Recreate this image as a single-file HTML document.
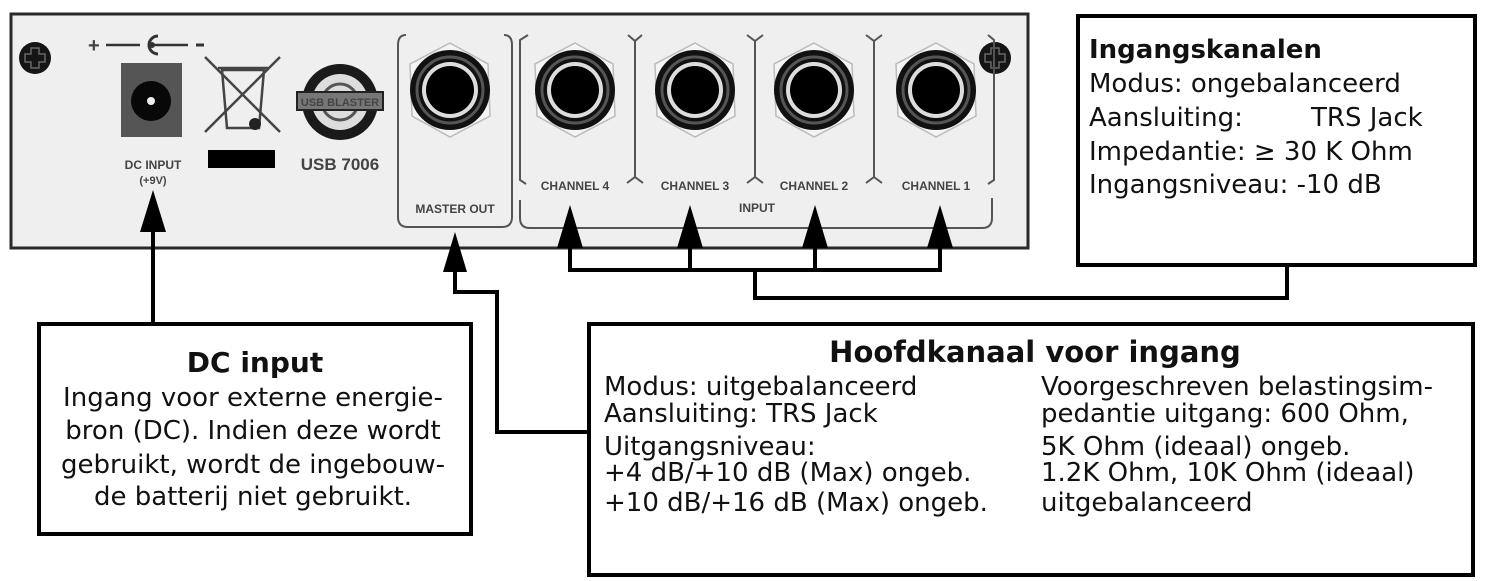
<!DOCTYPE html>
<html><head><meta charset="utf-8"><style>
html,body{margin:0;padding:0;background:#fff;}
svg{display:block;}
.t{font-family:"DejaVu Sans","Liberation Sans",sans-serif;fill:#111;}
.p{font-family:"Liberation Sans",sans-serif;font-weight:bold;fill:#444;}
</style></head><body>
<svg width="1485" height="581" viewBox="0 0 1485 581" xmlns="http://www.w3.org/2000/svg">
<defs>
<g id="jack">
<polygon points="0,-47 38,-26 40,26 0,47 -38,26 -40,-26" fill="#f4f4f4" stroke="#bbb" stroke-width="1.5"/>
<circle r="40" fill="#111"/>
<circle r="33" fill="none" stroke="#555" stroke-width="3"/>
<circle r="28" fill="#ddd"/>
<circle r="24" fill="#000"/>
</g>
<g id="screw">
<circle r="16" fill="#151515"/>
<path d="M-4,-10h8v6h6v8h-6v6h-8v-6h-6v-8h6z" fill="none" stroke="#666" stroke-width="1.5"/>
</g>
</defs>
<!-- panel -->
<rect x="11" y="14" width="1017" height="234" fill="#efefef" stroke="#2a2a2a" stroke-width="3"/>
<use href="#screw" x="35" y="58"/>
<use href="#screw" x="995" y="58"/>
<!-- DC -->
<text x="88" y="52" class="p" font-size="20" fill="#222">+</text>
<line x1="106" y1="45" x2="140" y2="45" stroke="#333" stroke-width="2.5"/>
<path d="M158,36 a9,9 0 1,0 0,18" fill="none" stroke="#333" stroke-width="3"/>
<circle cx="152" cy="45" r="3" fill="#333"/>
<line x1="152" y1="45" x2="188" y2="45" stroke="#333" stroke-width="2.5"/>
<line x1="196" y1="45" x2="204" y2="45" stroke="#333" stroke-width="3"/>
<rect x="121" y="63" width="61" height="74" fill="#555"/>
<circle cx="151" cy="101" r="20" fill="#080808"/>
<circle cx="151" cy="101" r="4" fill="#eee"/>
<text x="153" y="169" class="p" font-size="12" text-anchor="middle">DC INPUT</text>
<text x="153" y="184" class="p" font-size="11" text-anchor="middle">(+9V)</text>
<!-- bin -->
<g stroke="#444" stroke-width="2.5" fill="none">
<line x1="205" y1="57" x2="280" y2="132"/><line x1="280" y1="57" x2="205" y2="132"/>
<path d="M222,70 h42 l-5,58 h-32 z"/><line x1="218" y1="68" x2="268" y2="68"/>
</g>
<circle cx="255" cy="124" r="6" fill="#222"/>
<rect x="208" y="150" width="67" height="18" fill="#000"/>
<!-- usb -->
<circle cx="340" cy="102" r="38" fill="#1a1a1a"/>
<circle cx="340" cy="102" r="28" fill="#ddd"/>
<circle cx="340" cy="102" r="18" fill="none" stroke="#555" stroke-width="3"/>
<rect x="297" y="92" width="86" height="18" fill="#777" stroke="#222" stroke-width="2"/>
<text x="340" y="106" class="p" font-size="11" fill="#111" text-anchor="middle">USB BLASTER</text>
<text x="340" y="170" class="p" font-size="17" fill="#333" text-anchor="middle">USB 7006</text>
<!-- master out frame -->
<path d="M406,35 q-8,0 -8,10 v172 q0,10 10,10 h94 q10,0 10,-10 v-172 q0,-10 -8,-10" fill="none" stroke="#555" stroke-width="2"/>
<text x="455" y="213" class="p" font-size="12" text-anchor="middle">MASTER OUT</text>
<!-- input frame -->
<g fill="none" stroke="#555" stroke-width="2">
<path d="M528,35 l-8,5 v140 l6,4"/>
<path d="M520,200 v18 q0,10 10,10 h452 q10,0 10,-10 v-20"/>
<path d="M988,35 l6,5 v140 l-6,4"/>
<path d="M628,35 l7,6 l7,-6 M635,41 v136 l-8,6 M635,177 l8,6"/>
<path d="M747,35 l8,6 l8,-6 M755,41 v136 l-8,6 M755,177 l8,6"/>
<path d="M866,35 l8,6 l8,-6 M874,41 v136 l-8,6 M874,177 l8,6"/>
</g>
<text x="575" y="190" class="p" font-size="12" text-anchor="middle">CHANNEL 4</text>
<text x="695" y="190" class="p" font-size="12" text-anchor="middle">CHANNEL 3</text>
<text x="814" y="190" class="p" font-size="12" text-anchor="middle">CHANNEL 2</text>
<text x="936" y="190" class="p" font-size="12" text-anchor="middle">CHANNEL 1</text>
<text x="757" y="212" class="p" font-size="12" text-anchor="middle">INPUT</text>
<use href="#jack" x="450" y="90"/>
<use href="#jack" x="575" y="90"/>
<use href="#jack" x="695" y="90"/>
<use href="#jack" x="814" y="90"/>
<use href="#jack" x="936" y="90"/>
<!-- connectors -->
<g stroke="#000" stroke-width="4" fill="none">
<line x1="153" y1="220" x2="153" y2="322"/>
<path d="M455,260 V292 H497 V432 H588"/>
<path d="M570,240 V270 H940 V240"/>
<line x1="690" y1="240" x2="690" y2="270"/>
<line x1="815" y1="240" x2="815" y2="270"/>
<path d="M755,270 V298 H1287 V265"/>
</g>
<g fill="#000">
<polygon points="153,190 140,232 166,232"/>
<polygon points="455,232 443,272 467,272"/>
<polygon points="570,205 557,248 583,248"/>
<polygon points="690,205 677,248 703,248"/>
<polygon points="815,205 802,248 828,248"/>
<polygon points="940,205 927,248 953,248"/>
</g>
<!-- right box -->
<rect x="1078" y="16" width="397" height="249" fill="#fff" stroke="#000" stroke-width="4"/>
<text class="t" font-size="26" font-weight="bold" x="1089" y="58">Ingangskanalen</text>
<text class="t" font-size="26" x="1089" y="92">Modus: ongebalanceerd</text>
<text class="t" font-size="26" x="1089" y="126">Aansluiting:<tspan x="1311">TRS Jack</tspan></text>
<text class="t" font-size="26" x="1089" y="160">Impedantie: ≥ 30 K Ohm</text>
<text class="t" font-size="26" x="1089" y="193">Ingangsniveau: -10 dB</text>
<!-- DC box -->
<rect x="39" y="324" width="432" height="210" fill="#fff" stroke="#000" stroke-width="4"/>
<text class="t" font-size="28" font-weight="bold" x="255" y="372" text-anchor="middle">DC input</text>
<text class="t" font-size="26" x="253" y="406" text-anchor="middle">Ingang voor externe energie-</text>
<text class="t" font-size="26" x="253" y="439" text-anchor="middle">bron (DC). Indien deze wordt</text>
<text class="t" font-size="26" x="253" y="473" text-anchor="middle">gebruikt, wordt de ingebouw-</text>
<text class="t" font-size="26" x="253" y="505" text-anchor="middle">de batterij niet gebruikt.</text>
<!-- Hoofd box -->
<rect x="589" y="324" width="884" height="251" fill="#fff" stroke="#000" stroke-width="4"/>
<text class="t" font-size="29" font-weight="bold" x="1035" y="362" text-anchor="middle">Hoofdkanaal voor ingang</text>
<g class="t" font-size="26">
<text x="604" y="395">Modus: uitgebalanceerd</text>
<text x="604" y="422">Aansluiting: TRS Jack</text>
<text x="604" y="455">Uitgangsniveau:</text>
<text x="604" y="481">+4 dB/+10 dB (Max) ongeb.</text>
<text x="604" y="511">+10 dB/+16 dB (Max) ongeb.</text>
<text x="1041" y="395">Voorgeschreven belastingsim-</text>
<text x="1041" y="422">pedantie uitgang: 600 Ohm,</text>
<text x="1041" y="455">5K Ohm (ideaal) ongeb.</text>
<text x="1041" y="481">1.2K Ohm, 10K Ohm (ideaal)</text>
<text x="1041" y="511">uitgebalanceerd</text>
</g>
</svg>
</body></html>
